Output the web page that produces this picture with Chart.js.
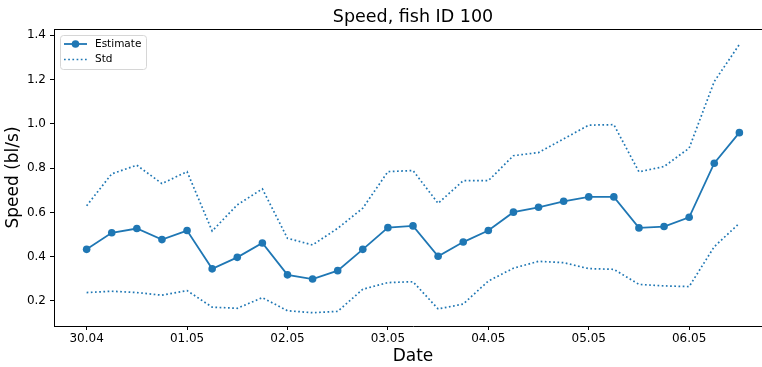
<!DOCTYPE html>
<html>
<head>
<meta charset="utf-8">
<script src="https://cdn.jsdelivr.net/npm/chart.js@4/dist/chart.umd.min.js"></script>
<style>
  html, body { margin: 0; padding: 0; background: #fff; overflow: hidden; }
  #wrap { width: 762px; height: 367px; overflow: hidden; position: relative; }
  canvas { display: block; }
</style>
</head>
<body>
<div id="wrap"><canvas id="c" width="800" height="367"></canvas></div>
<script>
// Observation times, in days since 30.04 (every 6 hours)
const days = [0, 0.25, 0.5, 0.75, 1, 1.25, 1.5, 1.75, 2, 2.25, 2.5, 2.75, 3, 3.25,
              3.5, 3.75, 4, 4.25, 4.5, 4.75, 5, 5.25, 5.5, 5.75, 6, 6.25, 6.5];

// Estimated speed (body lengths per second)
const estimate = [0.433, 0.508, 0.527, 0.477, 0.518, 0.345, 0.397, 0.462, 0.318,
                  0.299, 0.337, 0.433, 0.531, 0.539, 0.402, 0.466, 0.518, 0.601,
                  0.623, 0.650, 0.670, 0.670, 0.530, 0.536, 0.578, 0.822, 0.960];

// Upper and lower standard-deviation bands
const stdUpper = [0.630, 0.774, 0.813, 0.730, 0.784, 0.516, 0.634, 0.706, 0.483,
                  0.453, 0.528, 0.619, 0.784, 0.789, 0.641, 0.743, 0.743, 0.856,
                  0.870, 0.932, 0.994, 0.996, 0.783, 0.807, 0.890, 1.191, 1.358];
const stdLower = [0.238, 0.244, 0.238, 0.226, 0.247, 0.172, 0.167, 0.215, 0.156,
                  0.147, 0.153, 0.253, 0.283, 0.287, 0.164, 0.186, 0.290, 0.348,
                  0.379, 0.373, 0.346, 0.343, 0.275, 0.268, 0.265, 0.445, 0.551];

// Axis ticks
const xTickDays = [0, 1, 2, 3, 4, 5, 6];
const xTickLabels = ['30.04', '01.05', '02.05', '03.05', '04.05', '05.05', '06.05'];
const yTicks = [0.2, 0.4, 0.6, 0.8, 1.0, 1.2, 1.4];

const BLUE = '#1f77b4';
const FONT = '"DejaVu Sans", sans-serif';

const toXY = (vals) => vals.map((v, i) => ({ x: days[i], y: v }));

// Frame, titles and legend drawn on top of the chart area
const decorations = {
  id: 'decorations',
  afterDraw(chart) {
    const ctx = chart.ctx;
    const a = chart.chartArea;
    ctx.save();
    // top spine
    ctx.strokeStyle = '#000';
    ctx.lineWidth = 1;
    ctx.beginPath();
    ctx.moveTo(a.left, a.top + 0.5);
    ctx.lineTo(a.right, a.top + 0.5);
    ctx.stroke();

    ctx.fillStyle = '#000';
    // chart title
    ctx.font = '17.5px ' + FONT;
    ctx.textAlign = 'center';
    ctx.textBaseline = 'middle';
    ctx.fillText('Speed, fish ID 100', (a.left + a.right) / 2, 17);
    // x axis title
    ctx.font = '17px ' + FONT;
    ctx.fillText('Date', (a.left + a.right) / 2, 357);
    // y axis title
    ctx.save();
    ctx.translate(14, (a.top + a.bottom) / 2);
    ctx.rotate(-Math.PI / 2);
    ctx.fillText('Speed (bl/s)', 0, 0);
    ctx.restore();

    // legend box
    const bx = 60.5, by = 35.5, bw = 86, bh = 34, r = 3;
    ctx.beginPath();
    ctx.moveTo(bx + r, by);
    ctx.lineTo(bx + bw - r, by);
    ctx.arcTo(bx + bw, by, bx + bw, by + r, r);
    ctx.lineTo(bx + bw, by + bh - r);
    ctx.arcTo(bx + bw, by + bh, bx + bw - r, by + bh, r);
    ctx.lineTo(bx + r, by + bh);
    ctx.arcTo(bx, by + bh, bx, by + bh - r, r);
    ctx.lineTo(bx, by + r);
    ctx.arcTo(bx, by, bx + r, by, r);
    ctx.closePath();
    ctx.fillStyle = 'rgba(255,255,255,0.8)';
    ctx.fill();
    ctx.strokeStyle = '#d6d6d6';
    ctx.lineWidth = 1;
    ctx.stroke();

    // Estimate entry
    ctx.strokeStyle = BLUE;
    ctx.lineWidth = 1.8;
    ctx.beginPath();
    ctx.moveTo(64, 44);
    ctx.lineTo(87, 44);
    ctx.stroke();
    ctx.fillStyle = BLUE;
    ctx.beginPath();
    ctx.arc(75.5, 44, 3.8, 0, Math.PI * 2);
    ctx.fill();
    // Std entry
    ctx.setLineDash([1.7, 2.5]);
    ctx.lineWidth = 1.7;
    ctx.beginPath();
    ctx.moveTo(64, 59.5);
    ctx.lineTo(87, 59.5);
    ctx.stroke();
    ctx.setLineDash([]);

    ctx.fillStyle = '#000';
    ctx.font = '10.5px ' + FONT;
    ctx.textAlign = 'left';
    ctx.fillText('Estimate', 95, 44);
    ctx.fillText('Std', 95, 59.5);
    ctx.restore();
  }
};

new Chart(document.getElementById('c'), {
  type: 'line',
  data: {
    datasets: [
      {
        label: 'Estimate',
        data: toXY(estimate),
        borderColor: BLUE,
        backgroundColor: BLUE,
        borderWidth: 1.8,
        pointRadius: 3.8,
        pointBorderWidth: 0,
        pointBackgroundColor: BLUE,
        tension: 0
      },
      {
        label: 'Std',
        data: toXY(stdUpper),
        borderColor: BLUE,
        borderWidth: 1.7,
        borderDash: [1.7, 2.5],
        pointRadius: 0,
        tension: 0
      },
      {
        label: 'Std lower',
        data: toXY(stdLower),
        borderColor: BLUE,
        borderWidth: 1.7,
        borderDash: [1.7, 2.5],
        pointRadius: 0,
        tension: 0
      }
    ]
  },
  options: {
    responsive: false,
    animation: false,
    devicePixelRatio: 1,
    layout: { padding: { top: 29, right: 28, left: 0, bottom: 0 } },
    plugins: {
      legend: { display: false },
      title: { display: false },
      tooltip: { enabled: false }
    },
    scales: {
      x: {
        type: 'linear',
        min: -0.325,
        max: 6.825,
        afterFit(s) { s.height = 41; },
        afterBuildTicks(s) { s.ticks = xTickDays.map(v => ({ value: v })); },
        ticks: {
          color: '#000',
          font: { family: FONT, size: 12 },
          padding: 2,
          maxRotation: 0,
          autoSkip: false,
          callback: (v) => xTickLabels[xTickDays.indexOf(v)]
        },
        grid: { display: true, drawOnChartArea: false, drawTicks: true, tickLength: 4, color: '#000', tickWidth: 1 },
        border: { display: true, color: '#000', width: 1 }
      },
      y: {
        min: 0.087,
        max: 1.428,
        afterFit(s) { s.width = 54; },
        afterBuildTicks(s) { s.ticks = yTicks.map(v => ({ value: v })); },
        ticks: {
          color: '#000',
          font: { family: FONT, size: 12 },
          padding: 4,
          callback: (v) => v.toFixed(1)
        },
        grid: { display: true, drawOnChartArea: false, drawTicks: true, tickLength: 4, color: '#000', tickWidth: 1 },
        border: { display: true, color: '#000', width: 1 }
      }
    }
  },
  plugins: [decorations]
});
</script>
</body>
</html>
